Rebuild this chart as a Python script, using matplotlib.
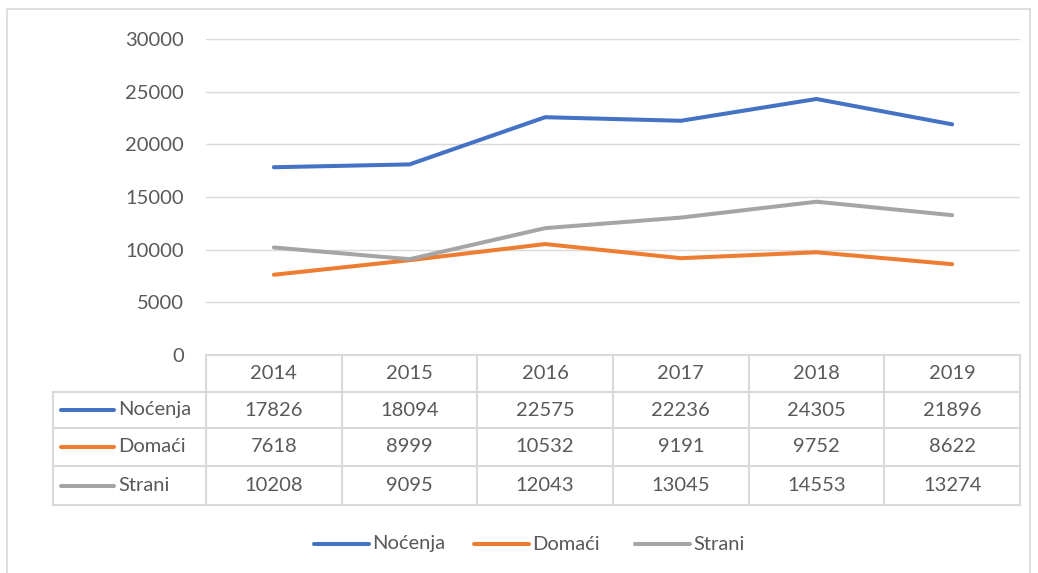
import matplotlib.pyplot as plt
from matplotlib.patches import Rectangle

godine = ["2014", "2015", "2016", "2017", "2018", "2019"]
nocenja = [17826, 18094, 22575, 22236, 24305, 21896]
domaci = [7618, 8999, 10532, 9191, 9752, 8622]
strani = [10208, 9095, 12043, 13045, 14553, 13274]

serije = [("Noćenja", nocenja, "#4472C4"),
          ("Domaći", domaci, "#ED7D31"),
          ("Strani", strani, "#A5A5A5")]

plt.rcParams['font.family'] = ['Lato', 'DejaVu Sans']
txt_col = "#595959"
grid_col = "#D9D9D9"
fs = 14.5
W, H = 1038, 573

fig = plt.figure(figsize=(W / 100, H / 100), dpi=100)

# pozadina u pikselima (okvir, tabela, legenda)
bg = fig.add_axes([0, 0, 1, 1])
bg.set_xlim(0, W)
bg.set_ylim(H, 0)
bg.axis("off")
bg.add_patch(Rectangle((7, 9), 1023, 580, fill=False, ec=grid_col, lw=1.2))

# grafikon
x0, x1, ytop, ybot = 206, 1020, 39, 355
ax = fig.add_axes([x0 / W, 1 - ybot / H, (x1 - x0) / W, (ybot - ytop) / H])
ax.set_facecolor("none")
for naziv, vals, c in serije:
    ax.plot(range(len(godine)), vals, color=c, lw=2.9, solid_capstyle="round")
ax.set_xlim(-0.5, len(godine) - 0.5)
ax.set_ylim(0, 30000)
ax.set_yticks(range(0, 30001, 5000))
ax.set_xticks([])
ax.yaxis.grid(True, color=grid_col, lw=1)
ax.set_axisbelow(True)
ax.tick_params(axis="y", length=0, pad=16, labelsize=fs, labelcolor=txt_col)
for s in ax.spines.values():
    s.set_visible(False)

# tabela podataka
col_w = (x1 - x0) / len(godine)
rows = [355, 392, 428, 466, 505]
lx = 53
bg.plot([x0, x1], [rows[0], rows[0]], color=grid_col, lw=1.5)
for r in rows[1:]:
    bg.plot([lx, x1], [r, r], color=grid_col, lw=1.5)
bg.plot([lx, lx], [rows[1], rows[-1]], color=grid_col, lw=1.5)
for i in range(len(godine) + 1):
    xx = x0 + i * col_w
    bg.plot([xx, xx], [rows[0], rows[-1]], color=grid_col, lw=1.5)

for i, g in enumerate(godine):
    bg.text(x0 + (i + 0.5) * col_w, (rows[0] + rows[1]) / 2, g, ha="center",
            va="center", fontsize=fs, color=txt_col)
for j, (naziv, vals, c) in enumerate(serije):
    yc = (rows[j + 1] + rows[j + 2]) / 2
    bg.plot([61, 114], [yc, yc], color=c, lw=2.9, solid_capstyle="round")
    bg.text(118, yc, naziv, ha="left", va="center", fontsize=fs, color=txt_col)
    for i, v in enumerate(vals):
        bg.text(x0 + (i + 0.5) * col_w, yc, str(v), ha="center", va="center",
                fontsize=fs, color=txt_col)

# legenda
leg_x = [314, 474, 635]
for (naziv, vals, c), lx0 in zip(serije, leg_x):
    bg.plot([lx0, lx0 + 55], [544, 544], color=c, lw=2.9, solid_capstyle="round")
    bg.text(lx0 + 58, 544, naziv, ha="left", va="center", fontsize=fs, color=txt_col)

fig.savefig("out.png", dpi=100)
